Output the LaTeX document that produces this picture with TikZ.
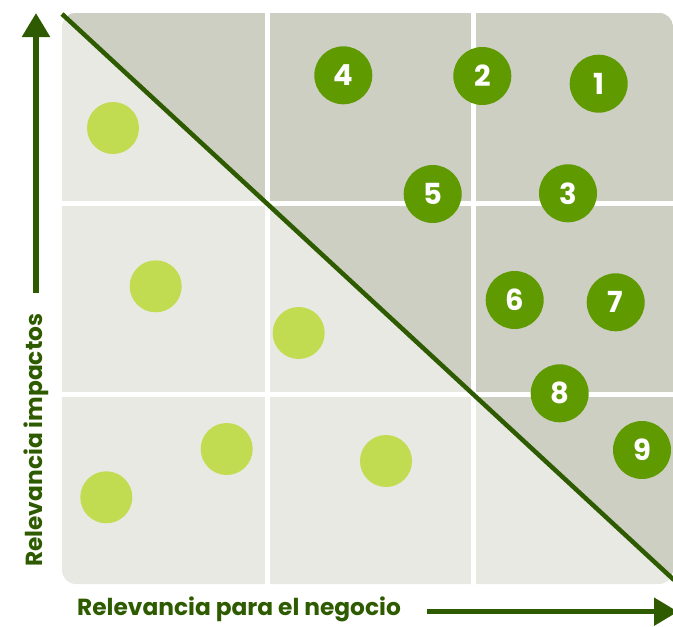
\documentclass[tikz,border=0pt]{standalone}
\usepackage{fontspec}
\setmainfont{Poppins}
\usetikzlibrary{arrows.meta}
\definecolor{lightbg}{HTML}{E8E9E2}
\definecolor{darkbg}{HTML}{CECFC3}
\definecolor{axisgreen}{HTML}{2E5B00}
\definecolor{darkdot}{HTML}{5F9A00}
\definecolor{lightdot}{HTML}{C1DC50}
\begin{document}
\begin{tikzpicture}[x=1pt,y=-1pt,
  hi/.style={circle,fill=darkdot,minimum size=58pt,inner sep=0pt,text=white,font=\bfseries\fontsize{29}{29}\selectfont},
  lo/.style={circle,fill=lightdot,minimum size=52pt,inner sep=0pt},
  axis/.style={draw=axisgreen,line width=5.3pt,-{Triangle[width=27pt,length=24pt]}},
  gap/.style={draw=white,line width=5.3pt},
  lbl/.style={text=axisgreen,font=\bfseries\fontsize{23.3}{23.3}\selectfont,inner sep=0pt}]
\useasboundingbox (0,0) rectangle (673,627);
\clip (0,0) rectangle (673,627);
% background grid
\fill[lightbg,rounded corners=14pt] (62,13) rectangle (673,584);
\begin{scope}
  \clip[rounded corners=14pt] (62,13) rectangle (673,584);
  \fill[darkbg] (62,14) -- (673,580) -- (700,580) -- (700,0) -- (62,0) -- cycle;
\end{scope}
% white gaps
\draw[gap] (267.6,10) -- (267.6,590);
\draw[gap] (473.3,10) -- (473.3,590);
\draw[gap] (60,203.3) -- (680,203.3);
\draw[gap] (60,394.2) -- (680,394.2);
% diagonal
\coordinate (d1) at (62,14);
\coordinate (d2) at (674,580);
\draw[axisgreen,line width=4.5pt] (d1) -- (d2);
% light dots
\node[lo] (l1) at (113,128) {};
\node[lo] (l2) at (155.7,286.3) {};
\node[lo] (l3) at (298.7,333) {};
\node[lo] (l4) at (226.7,449) {};
\node[lo] (l5) at (106.3,497.3) {};
\node[lo] (l6) at (386,461) {};
% dark dots
\node[hi] (n1) at (598.7,83.7) {1};
\node[hi] (n2) at (482.3,76) {2};
\node[hi] (n3) at (568,193.3) {3};
\node[hi] (n4) at (343.3,75.3) {4};
\node[hi] (n5) at (432.7,194) {5};
\node[hi] (n6) at (514.7,300) {6};
\node[hi] (n7) at (615.7,302.3) {7};
\node[hi] (n8) at (559.7,393.3) {8};
\node[hi] (n9) at (642,450) {9};
% axes
\coordinate (ya) at (36,293);
\coordinate (yb) at (36,13);
\draw[axis] (ya) -- (yb);
\coordinate (xa) at (427,611.7);
\coordinate (xb) at (678,611.7);
\draw[axis] (xa) -- (xb);
\node[lbl,anchor=base west] (xl) at (77,615.5) {Relevancia para el negocio};
\node[lbl,rotate=90,anchor=base west] (yl) at (42,567) {Relevancia impactos};
\end{tikzpicture}
\end{document}
